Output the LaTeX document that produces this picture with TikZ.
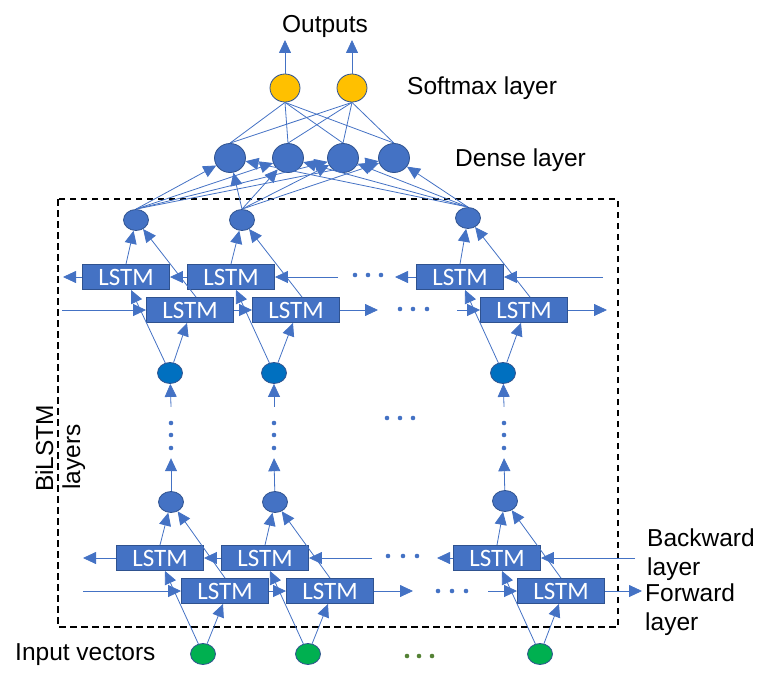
\documentclass[tikz,border=0pt]{standalone}
\usepackage{fontspec}
\setmainfont{Liberation Sans}
\newfontfamily\lstmfont{Carlito}
\usetikzlibrary{arrows.meta,calc,shapes.geometric}
\definecolor{lineblue}{HTML}{4472C4}
\definecolor{boxborder}{HTML}{2F528F}
\definecolor{midblue}{HTML}{0070C0}
\definecolor{ingreen}{HTML}{00B050}
\definecolor{dotgreen}{HTML}{548235}
\definecolor{smyellow}{HTML}{FFC000}
\begin{document}
\begin{tikzpicture}[x=1pt,y=-1pt,
  conn/.style={draw=lineblue, line width=0.8pt},
  arr/.style={conn, -{Triangle[length=13pt,width=12pt]}},
  lstm/.style={rectangle, fill=lineblue, draw=boxborder, line width=0.9pt,
    minimum width=87pt, minimum height=25pt, inner sep=0pt, text=white,
    font=\lstmfont\fontsize{25}{25}\selectfont},
  neuron/.style={ellipse, draw=boxborder, line width=0.8pt, inner sep=0pt,
    minimum width=25pt, minimum height=21pt, fill=lineblue},
  midneuron/.style={neuron, fill=midblue},
  inneuron/.style={neuron, fill=ingreen},
  densen/.style={neuron, minimum width=31pt, minimum height=29pt},
  softn/.style={neuron, fill=smyellow, minimum width=30pt, minimum height=28pt},
  vdots/.style={rectangle, inner sep=0pt, minimum width=4pt, minimum height=51pt},
  lbl/.style={font=\fontsize{24.5}{29}\selectfont, inner sep=0pt},
]
\useasboundingbox (0,0) rectangle (778,682);

% dashed frame
\draw[black, line width=1.8pt, dash pattern=on 6.5pt off 4.5pt] (58,199) rectangle (618,627);

% softmax and dense
\node[softn] (S1) at (285,88) {};
\node[softn] (S2) at (352,88) {};
\coordinate (O1) at (285,40);
\coordinate (O2) at (352,40);
\node[densen] (D1) at (230,158) {};
\node[densen] (D2) at (288,158) {};
\node[densen] (D3) at (343,158) {};
\node[densen] (D4) at (394,158) {};

% top bilstm block
\node[neuron] (T1) at (136,220) {};
\node[neuron] (T2) at (242,220) {};
\node[neuron] (T3) at (468,218) {};
\node[lstm] (TB1) at (126,277) {LSTM};
\node[lstm] (TB2) at (231,277) {LSTM};
\node[lstm] (TB3) at (460,277) {LSTM};
\node[lstm] (TF1) at (190,310) {LSTM};
\node[lstm] (TF2) at (296,310) {LSTM};
\node[lstm] (TF3) at (524,310) {LSTM};
\node[midneuron] (M1) at (170,373) {};
\node[midneuron] (M2) at (274,373) {};
\node[midneuron] (M3) at (503,373) {};

% vertical dots
\node[vdots] (V1) at (171,432.5) {};
\node[vdots] (V2) at (274,432.5) {};
\node[vdots] (V3) at (504,432.5) {};

% lower bilstm block
\node[neuron] (L1) at (171,502) {};
\node[neuron] (L2) at (275,502) {};
\node[neuron] (L3) at (505,501) {};
\node[lstm] (LB1) at (160,558) {LSTM};
\node[lstm] (LB2) at (265,558) {LSTM};
\node[lstm] (LB3) at (497,558) {LSTM};
\node[lstm] (LF1) at (225,591) {LSTM};
\node[lstm] (LF2) at (330,591) {LSTM};
\node[lstm] (LF3) at (561,591) {LSTM};
\node[inneuron] (I1) at (203,654) {};
\node[inneuron] (I2) at (308,654) {};
\node[inneuron] (I3) at (540,654) {};

% outputs
\draw[arr] (S1.north) -- (O1);
\draw[arr] (S2.north) -- (O2);
\foreach \s in {S1,S2}{
  \foreach \d in {D1,D2,D3,D4}{
    \draw[conn] (\s.south) -- (\d.north);
  }
}
\foreach \t in {T1,T2,T3}{
  \foreach \d in {D1,D2,D3,D4}{
    \draw[arr] (\t.north) -- (\d);
  }
}

% column connections
\foreach \i in {1,2,3}{
  \draw[arr] (M\i) -- ([xshift=5pt]TB\i.south);
  \draw[arr] (M\i) -- ([xshift=-3pt]TF\i.south);
  \draw[arr] (TB\i.north) -- (T\i);
  \draw[arr] ([xshift=6pt]TF\i.north) -- (T\i);
  \draw[arr] (L\i) -- (V\i.south);
  \draw[arr] (V\i.north) -- (M\i);
  \draw[arr] (I\i) -- ([xshift=5pt]LB\i.south);
  \draw[arr] (I\i) -- ([xshift=-2pt]LF\i.south);
  \draw[arr] (LB\i.north) -- (L\i);
  \draw[arr] (LF\i.north) -- (L\i);
}

% top horizontal rows
\coordinate (tbR) at (603,277);
\coordinate (tbM) at (395,277);
\coordinate (tbS) at (338,277);
\coordinate (tbL) at (63,277);
\draw[arr] (tbR) -- (TB3.east);
\draw[arr] (TB3.west) -- (tbM);
\draw[arr] (tbS) -- (TB2.east);
\draw[arr] (TB2.west) -- (TB1.east);
\draw[arr] (TB1.west) -- (tbL);
\coordinate (tfL) at (62,310);
\coordinate (tfM) at (378,310);
\coordinate (tfS) at (457,310);
\coordinate (tfR) at (607,310);
\draw[arr] (tfL) -- (TF1.west);
\draw[arr] (TF1.east) -- (TF2.west);
\draw[arr] (TF2.east) -- (tfM);
\draw[arr] (tfS) -- (TF3.west);
\draw[arr] (TF3.east) -- (tfR);

% lower horizontal rows
\coordinate (lbR) at (635,558);
\coordinate (lbM) at (437,558);
\coordinate (lbS) at (372,558);
\coordinate (lbL) at (83,558);
\draw[arr] (lbR) -- (LB3.east);
\draw[arr] (LB3.west) -- (lbM);
\draw[arr] (lbS) -- (LB2.east);
\draw[arr] (LB2.west) -- (LB1.east);
\draw[arr] (LB1.west) -- (lbL);
\coordinate (lfL) at (83,591);
\coordinate (lfM) at (413,591);
\coordinate (lfS) at (488,591);
\coordinate (lfR) at (642,591);
\draw[arr] (lfL) -- (LF1.west);
\draw[arr] (LF1.east) -- (LF2.west);
\draw[arr] (LF2.east) -- (lfM);
\draw[arr] (lfS) -- (LF3.west);
\draw[arr] (LF3.east) -- (lfR);

% dots
\foreach \x/\y in {355/275,368/275,381/275, 400/309,413/309,427/309,
  387/418,400/418,413/418, 388/556,403/556,417/556, 438/591,452/591,466/591}{
  \fill[lineblue] (\x,\y) circle[radius=2.3pt];
}
\foreach \x in {171,274,504}{
  \foreach \y in {423,435,448}{
    \fill[lineblue] (\x,\y) circle[radius=2.3pt];
  }
}
\foreach \x in {407,419,432}{
  \fill[dotgreen] (\x,656) circle[radius=2.3pt];
}

% labels
\node[lbl, anchor=base] (outputs) at (325,33) {Outputs};
\node[lbl, anchor=base west] (softl) at (407,95) {Softmax layer};
\node[lbl, anchor=base west] (densel) at (455,166) {Dense layer};
\node[lbl, anchor=base west] (inputl) at (15,660) {Input vectors};
\node[lbl, anchor=base west] (bw1) at (647,546) {Backward};
\node[lbl, anchor=base west] (bw2) at (647,575) {layer};
\node[lbl, anchor=base west] (fw1) at (645,601) {Forward};
\node[lbl, anchor=base west] (fw2) at (645,630) {layer};
\node[lbl, anchor=base west, rotate=90] (bil1) at (53,492) {BiLSTM};
\node[lbl, anchor=base west, rotate=90] (bil2) at (80,490) {layers};
\end{tikzpicture}
\end{document}
